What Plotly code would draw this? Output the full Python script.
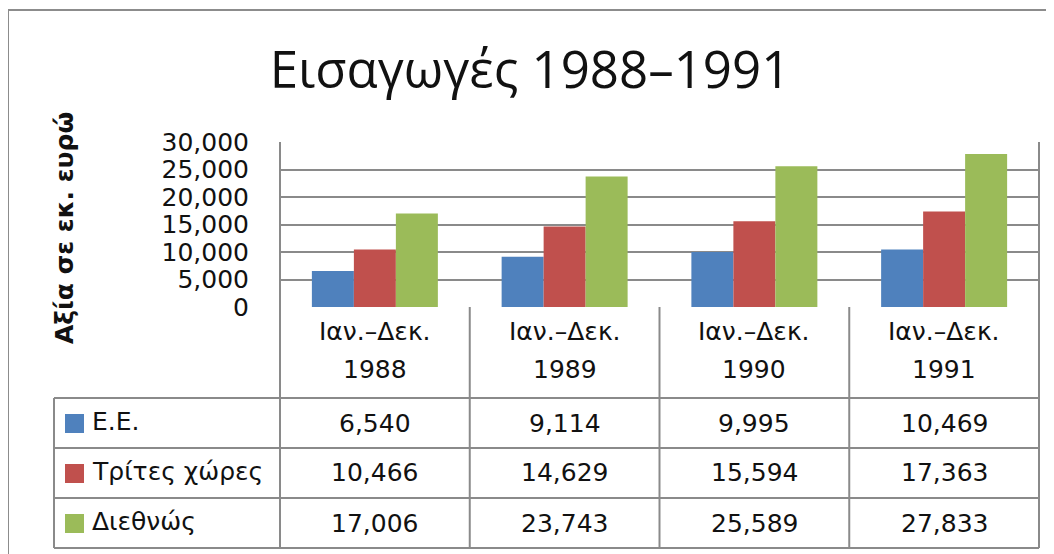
import plotly.graph_objects as go

# Εισαγωγές 1988-1991, αξία σε εκ. ευρώ
ETH = ["1988", "1989", "1990", "1991"]
HEADER_TOP = "Ιαν.–Δεκ."
SEIRES = ["Ε.Ε.", "Τρίτες χώρες", "Διεθνώς"]
EE = [6540, 9114, 9995, 10469]
TRITES = [10466, 14629, 15594, 17363]
DIETHNOS = [17006, 23743, 25589, 27833]
XROMATA = ["#4F81BD", "#C0504D", "#9BBB59"]
Y_TICKS = [0, 5000, 10000, 15000, 20000, 25000, 30000]

FONT = "DejaVu Sans"
GRAMMI = "#8a8a8a"
OFF = 8  # το body της σελίδας έχει περιθώριο 8px

fig = go.Figure()
for onoma, times, xr in zip(SEIRES, [EE, TRITES, DIETHNOS], XROMATA):
    fig.add_trace(go.Bar(x=ETH, y=times, name=onoma, marker=dict(color=xr, line=dict(width=0))))


def py(px):
    # pixel σελίδας (κατακόρυφα) -> paper, άξονας y από 307 (0) έως 142 (1)
    return (307 - px) / 165


def pxx(px):
    return (px - 280) / 759


def txt(text, x, y, xref="x", xanchor="center", size=25, **kw):
    return dict(x=x, xref=xref, y=y, yref="paper", text=text, showarrow=False,
                xanchor=xanchor, yanchor="middle",
                font=dict(family=FONT, size=size, color="#111"), **kw)


shapes = []
line = dict(color=GRAMMI, width=2)
# εξωτερικό πλαίσιο
shapes.append(dict(type="rect", xref="paper", yref="paper", x0=pxx(8), x1=pxx(1070),
                   y0=py(570), y1=py(10), line=dict(color="#8c8c8c", width=2)))
# οριζόντιες γραμμές πίνακα
for yy in [398, 448, 498, 548]:
    shapes.append(dict(type="line", xref="paper", yref="paper", x0=pxx(54), x1=1,
                       y0=py(yy), y1=py(yy), line=line))
# κατακόρυφες γραμμές
shapes.append(dict(type="line", xref="paper", yref="paper", x0=0, x1=0, y0=1, y1=py(548), line=line))
shapes.append(dict(type="line", xref="paper", yref="paper", x0=1, x1=1, y0=1, y1=py(548), line=line))
shapes.append(dict(type="line", xref="paper", yref="paper", x0=pxx(54), x1=pxx(54),
                   y0=py(398), y1=py(548), line=line))
for i in range(1, len(ETH)):
    shapes.append(dict(type="line", xref="x", yref="paper", x0=i - 0.5, x1=i - 0.5,
                       y0=0, y1=py(548), line=line))

annotations = []
for i, et in enumerate(ETH):
    annotations.append(txt(HEADER_TOP, i, py(331)))
    annotations.append(txt(et, i, py(369)))

row_y = [423, 473, 523]
for onoma, times, xr, ry in zip(SEIRES, [EE, TRITES, DIETHNOS], XROMATA, row_y):
    shapes.append(dict(type="rect", xref="paper", yref="paper", x0=pxx(65), x1=pxx(84),
                       y0=py(ry + 10), y1=py(ry - 9), fillcolor=xr, line=dict(width=0)))
    annotations.append(txt(onoma, pxx(90), py(ry - 2), xref="paper", xanchor="left"))
    for i, v in enumerate(times):
        annotations.append(txt(f"{v:,}", i, py(ry)))

# τίτλος άξονα y
annotations.append(txt("<b>Αξία σε εκ. ευρώ</b>", pxx(64), py(228), xref="paper",
                       size=25, textangle=-90))

fig.update_layout(
    width=1054, height=554,
    margin=dict(l=280 - OFF, r=1054 - (1039 - OFF), t=142 - OFF, b=554 - (307 - OFF)),
    paper_bgcolor="white", plot_bgcolor="white",
    title=dict(text="Εισαγωγές 1988–1991", x=(530 - OFF) / 1054, xref="container",
               xanchor="center", y=1 - (70 - OFF) / 554, yref="container", yanchor="middle",
               font=dict(family="Open Sans", size=51, color="#111")),
    barmode="group", bargap=0.336, bargroupgap=0,
    showlegend=False,
    xaxis=dict(type="category", showticklabels=False, showgrid=False, zeroline=False,
               showline=False, range=[-0.5, 3.5]),
    yaxis=dict(range=[0, 30000], tickvals=Y_TICKS, tickformat=",d", showgrid=True,
               gridcolor=GRAMMI, gridwidth=2, zeroline=False, showline=False,
               ticks="", ticklabelstandoff=30,
               tickfont=dict(family=FONT, size=25, color="#111")),
    shapes=shapes, annotations=annotations,
)

fig.write_html("out.html")
